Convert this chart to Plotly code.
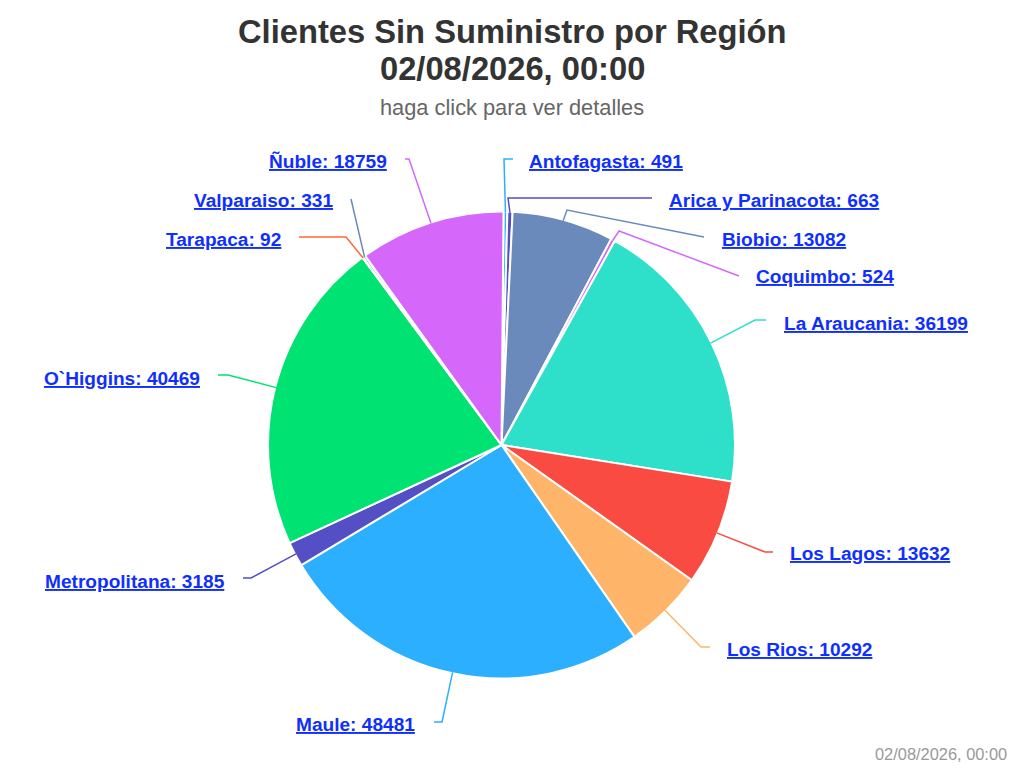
'''
    Pie chart of customers without power supply per region.
'''
import math

import plotly.graph_objects as go

regions = ['Antofagasta', 'Arica y Parinacota', 'Biobio', 'Coquimbo', 'La Araucania',
           'Los Lagos', 'Los Rios', 'Maule', 'Metropolitana', "O`Higgins",
           'Tarapaca', 'Valparaiso', 'Ñuble']
clients = [491, 663, 13082, 524, 36199, 13632, 10292, 48481, 3185, 40469, 92, 331, 18759]
colors = ['#2caffe', '#544fc5', '#6b8abc', '#d568fb', '#2ee0ca', '#fa4b42', '#feb56a',
          '#2caffe', '#544fc5', '#00e272', '#fe6a35', '#6b8abc', '#d568fb']

# label placement in screen pixels: text x, text y, anchor
label_x = [527, 667, 720, 754, 782, 788, 725, 417, 227, 202, 283, 335, 389]
label_y = [161, 200, 239, 277, 323, 553, 649, 724, 581, 378, 239, 200, 161]
label_side = ['left'] * 7 + ['right'] * 6

# connector elbow and end, screen pixels
elbow_x = [504, 508, 567, 619, 755, 765, 701, 442, 251, 228, 346, 351, 409]
elbow_y = [159, 198, 210, 231, 320, 552, 647, 722, 578, 375, 237, 199, 159]
end_x = [513, 652, 704, 739, 766, 773, 710, 434, 243, 218, 299, 351, 405]
end_y = [159, 198, 237, 276, 320, 552, 647, 722, 578, 375, 237, 199, 159]

WIDTH, HEIGHT = 1008, 760
OFFSET = 8  # default body margin of the page
CENTER_X, CENTER_Y, RADIUS = 501.5, 445, 233.5
START_ANGLE = 0.5
LABEL_COLOR = '#0f2fff'


def to_paper(x, y):
    '''
        Converts screen pixels to paper coordinates.
    '''
    return (x - OFFSET) / WIDTH, 1 - (y - OFFSET) / HEIGHT


def add_text(text, x, y, size, color, anchor='center'):
    '''
        Adds a fixed text at a screen position.
    '''
    px, py = to_paper(x, y)
    fig.add_annotation(
        text=text,
        xref='paper', yref='paper', x=px, y=py,
        xanchor=anchor, yanchor='middle', showarrow=False,
        font=dict(size=size, color=color)
    )


fig = go.Figure()

x0, y0 = to_paper(CENTER_X - RADIUS, CENTER_Y + RADIUS)
x1, y1 = to_paper(CENTER_X + RADIUS, CENTER_Y - RADIUS)
fig.add_trace(go.Pie(
    labels=regions,
    values=clients,
    sort=False,
    direction='clockwise',
    rotation=START_ANGLE,
    textinfo='none',
    showlegend=False,
    domain=dict(x=[x0, x1], y=[y0, y1]),
    marker=dict(colors=colors, line=dict(color='#ffffff', width=2))
))

total = sum(clients)
running = 0
shapes = []
for i, value in enumerate(clients):
    # the connector leaves the rim at the middle of the slice
    angle = 2 * math.pi * (running + value / 2) / total + math.radians(START_ANGLE)
    running += value
    rim_x = CENTER_X + (RADIUS - 1) * math.sin(angle)
    rim_y = CENTER_Y - (RADIUS - 1) * math.cos(angle)

    points = [to_paper(rim_x, rim_y), to_paper(elbow_x[i], elbow_y[i]), to_paper(end_x[i], end_y[i])]
    path = 'M ' + ' L '.join(f'{px:.5f} {py:.5f}' for px, py in points)
    shapes.append(dict(type='path', path=path, xref='paper', yref='paper',
                       line=dict(color=colors[i], width=1.5), layer='above'))

    add_text(f'<b><u>{regions[i]}: {value}</u></b>', label_x[i], label_y[i],
             19.1, LABEL_COLOR, label_side[i])

add_text('<b>Clientes Sin Suministro por Región</b>', 512, 32, 32.7, '#333333')
add_text('<b>02/08/2026, 00:00</b>', 512, 69, 32.7, '#333333')
add_text('haga click para ver detalles', 512, 108, 21.8, '#666666')
add_text('02/08/2026, 00:00', 1009, 754, 16.4, '#999999', 'right')

fig.update_layout(
    width=WIDTH,
    height=HEIGHT,
    autosize=False,
    margin=dict(l=0, r=0, t=0, b=0),
    paper_bgcolor='#ffffff',
    font=dict(family='Liberation Sans'),
    shapes=shapes
)

fig.write_html("out.html")
